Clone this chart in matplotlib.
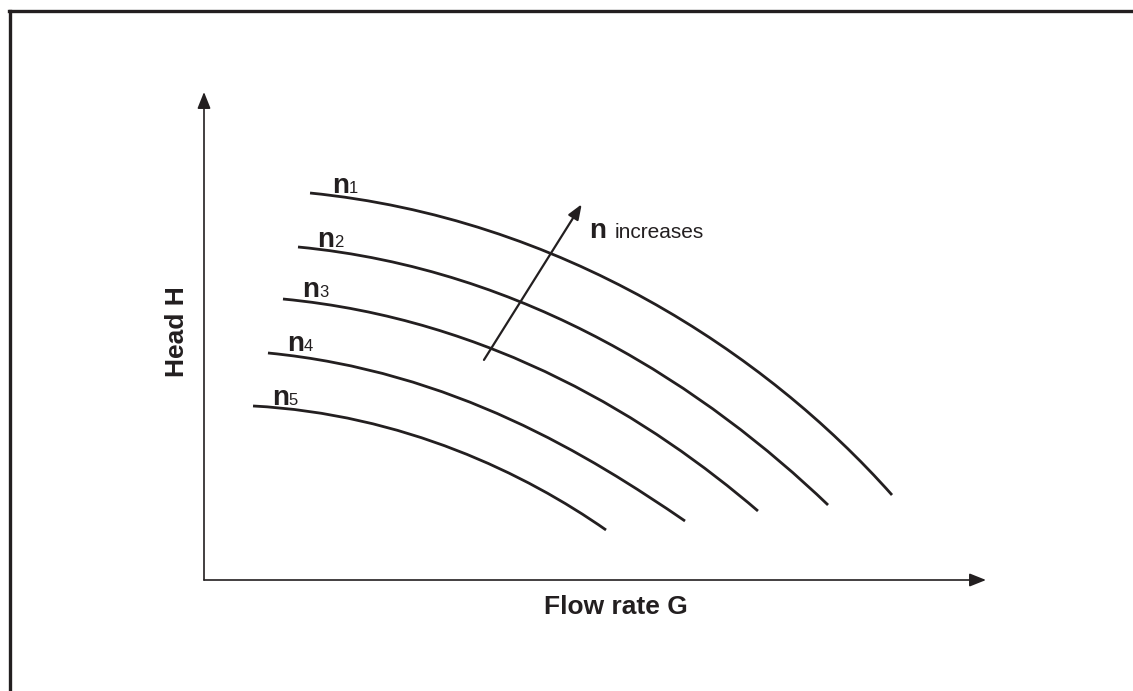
import matplotlib
matplotlib.use("Agg")
import matplotlib.pyplot as plt
from matplotlib.lines import Line2D
from matplotlib.path import Path
from matplotlib.patches import PathPatch

plt.rcParams["font.family"] = ["Liberation Sans", "DejaVu Sans"]
INK = "#231f20"

# pump curves read off the picture as cubic Bezier control points
# (flow rate G, head H), axis scale 0..10
speeds = ["1", "2", "3", "4", "5"]
G_n1 = [1.356, 4.552, 7.174, 8.798]
H_n1 = [7.930, 7.418, 4.672, 1.742]
G_n2 = [1.202, 4.143, 6.445, 7.980]
H_n2 = [6.824, 6.373, 3.893, 1.537]
G_n3 = [1.010, 3.696, 5.742, 7.084]
H_n3 = [5.758, 5.348, 3.258, 1.414]
G_n4 = [0.818, 3.184, 4.936, 6.151]
H_n4 = [4.652, 4.283, 2.541, 1.209]
G_n5 = [0.627, 2.545, 4.118, 5.141]
H_n5 = [3.566, 3.402, 2.172, 1.025]

curves_G = [G_n1, G_n2, G_n3, G_n4, G_n5]
curves_H = [H_n1, H_n2, H_n3, H_n4, H_n5]

# where the n-labels sit (left edge, baseline)
label_G = [1.64, 1.45, 1.26, 1.06, 0.87]
label_H = [7.93, 6.82, 5.80, 4.69, 3.59]

fig = plt.figure(figsize=(11.33, 6.91), dpi=100)
fig.patch.set_facecolor("white")

# frame, only left and top edge visible
fig.add_artist(Line2D([10 / 1133, 10 / 1133], [0, 1 - 10.5 / 691],
                      transform=fig.transFigure, color=INK, lw=2.4))
fig.add_artist(Line2D([9 / 1133, 1], [1 - 10.5 / 691, 1 - 10.5 / 691],
                      transform=fig.transFigure, color=INK, lw=2.4))

ax = fig.add_axes([204 / 1133, 111 / 691, 782 / 1133, 488 / 691])
ax.set_xlim(0, 10)
ax.set_ylim(0, 10)
ax.axis("off")

# axes with arrowheads
arrow = dict(arrowstyle="-|>,head_length=1.0,head_width=0.4", color=INK,
             lw=1.2, shrinkA=0, shrinkB=0)
ax.annotate("", xy=(10, 0), xytext=(0, 0), arrowprops=arrow,
            annotation_clip=False)
ax.annotate("", xy=(0, 10), xytext=(0, 0), arrowprops=arrow,
            annotation_clip=False)

codes = [Path.MOVETO, Path.CURVE4, Path.CURVE4, Path.CURVE4]
for g, h in zip(curves_G, curves_H):
    p = Path(list(zip(g, h)), codes)
    ax.add_patch(PathPatch(p, fill=False, edgecolor=INK, lw=2.0,
                           capstyle="butt", clip_on=False))

for s, gx, hy in zip(speeds, label_G, label_H):
    ax.text(gx, hy, "n", fontsize=20, fontweight="bold", color=INK,
            ha="left", va="baseline")
    ax.text(gx + 0.21, hy, s, fontsize=12, color=INK,
            ha="left", va="baseline")

# "n increases" arrow
ax.annotate("", xy=(4.83, 7.70), xytext=(3.58, 4.51),
            arrowprops=dict(arrowstyle="-|>,head_length=0.9,head_width=0.35",
                            color=INK, lw=1.6, shrinkA=0, shrinkB=0))
ax.text(4.92, 7.00, "n", fontsize=20, fontweight="bold", color=INK,
        ha="left", va="baseline")
ax.text(5.25, 7.00, "increases", fontsize=15, color=INK,
        ha="left", va="baseline")

ax.text(5.27, -0.55, "Flow rate G", fontsize=19, fontweight="bold",
        color=INK, ha="center", va="center")
ax.text(-0.34, 5.08, "Head H", fontsize=19, fontweight="bold", color=INK,
        ha="center", va="center", rotation=90)

fig.savefig("out.png", dpi=100, facecolor="white")
